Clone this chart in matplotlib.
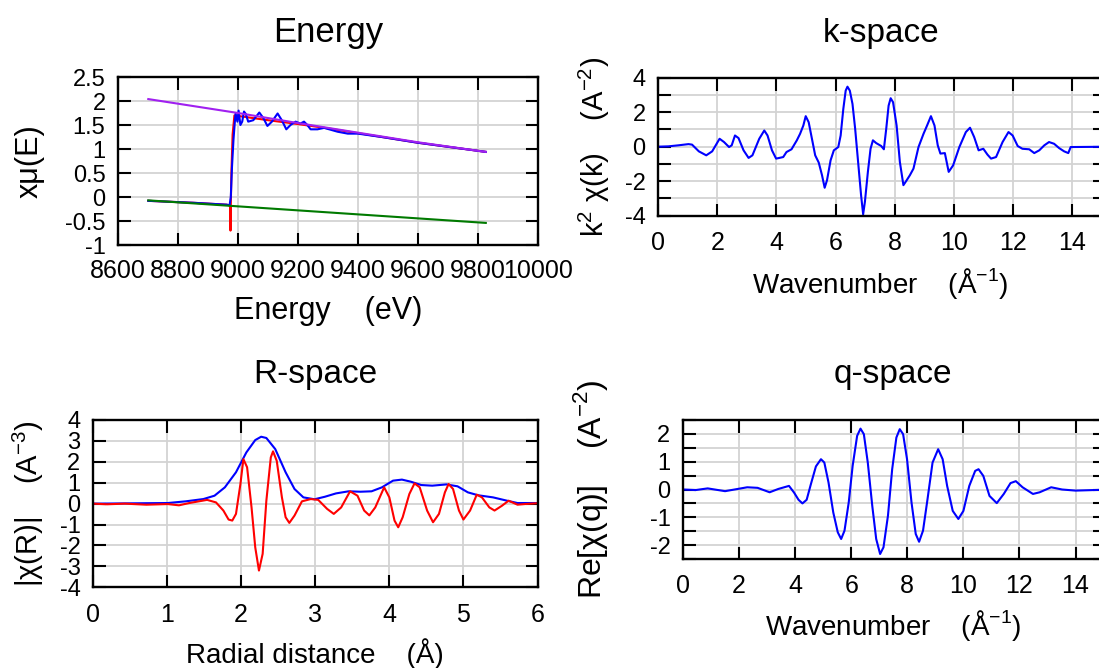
import matplotlib
matplotlib.use("Agg")
import matplotlib.pyplot as plt
from matplotlib.ticker import MultipleLocator, FormatStrFormatter

plt.rcParams['font.family'] = ['Liberation Sans', 'DejaVu Sans']
plt.rcParams['mathtext.fontset'] = 'custom'
plt.rcParams['mathtext.rm'] = 'Liberation Sans'
plt.rcParams['axes.unicode_minus'] = False
plt.rcParams['lines.solid_joinstyle'] = 'round'

# --- Energy panel ---
e_pre = [8701, 9826]
mu_pre = [-0.07, -0.54]
e_post = [8701, 9000, 9200, 9400, 9600, 9826]
mu_post = [2.04, 1.75, 1.54, 1.34, 1.14, 0.94]
e_bkg = [8701, 8850, 8962, 8974, 8975, 8976, 8978, 8982, 8988, 9010, 9100, 9200, 9300, 9400, 9600, 9826]
mu_bkg = [-0.08, -0.12, -0.16, -0.18, -0.70, -0.18, 0.5, 1.3, 1.7, 1.68, 1.6, 1.52, 1.43, 1.33, 1.13, 0.94]
e_data = [8701, 8850, 8962, 8972, 8976, 8980, 8985, 8989, 8992, 8998, 9002, 9008, 9014, 9020,
          9026, 9034, 9051, 9071, 9085, 9098, 9113, 9132, 9146, 9161, 9175, 9192, 9208, 9220,
          9231, 9242, 9265, 9287, 9304, 9332, 9366, 9400, 9479, 9600, 9826]
mu_data = [-0.08, -0.12, -0.16, -0.17, 0.0, 0.63, 1.2, 1.53, 1.74, 1.57, 1.8, 1.5, 1.57, 1.78,
           1.73, 1.57, 1.6, 1.76, 1.64, 1.48, 1.57, 1.74, 1.6, 1.41, 1.5, 1.57, 1.53, 1.57,
           1.5, 1.41, 1.41, 1.44, 1.41, 1.36, 1.32, 1.32, 1.25, 1.13, 0.94]

# --- k-space ---
k = [0.0, 0.35, 0.69, 1.03, 1.15, 1.38, 1.63, 1.83, 2.08, 2.23, 2.40, 2.49, 2.60, 2.72, 2.89,
     3.06, 3.19, 3.42, 3.59, 3.70, 3.85, 3.99, 4.10, 4.23, 4.34, 4.51, 4.69, 4.80, 4.91, 4.99,
     5.09, 5.20, 5.31, 5.43, 5.54, 5.63, 5.71, 5.83, 5.94, 6.09, 6.17, 6.26, 6.34, 6.40, 6.48,
     6.57, 6.66, 6.77, 6.86, 6.93, 6.99, 7.09, 7.18, 7.26, 7.37, 7.54, 7.63, 7.71, 7.79, 7.86,
     7.94, 8.06, 8.17, 8.29, 8.38, 8.51, 8.63, 8.80, 8.97, 9.09, 9.22, 9.34, 9.45, 9.54, 9.69,
     9.82, 9.97, 10.18, 10.40, 10.54, 10.68, 10.83, 10.99, 11.13, 11.25, 11.42, 11.64, 11.84,
     11.98, 12.15, 12.31, 12.54, 12.71, 12.88, 13.05, 13.21, 13.38, 13.55, 13.72, 13.86, 13.94,
     15.3]
chik = [0.0, 0.02, 0.08, 0.15, 0.12, -0.27, -0.50, -0.27, 0.46, 0.27, -0.02, 0.08, 0.65, 0.50,
        -0.21, -0.65, -0.50, 0.46, 0.94, 0.65, -0.21, -0.69, -0.65, -0.60, -0.31, -0.15, 0.37,
        0.75, 1.23, 1.77, 1.42, 0.46, -0.50, -0.92, -1.65, -2.38, -1.94, -0.79, -0.21, -0.02,
        0.65, 2.19, 3.25, 3.48, 3.25, 2.48, 1.04, -1.08, -2.81, -3.92, -3.19, -1.46, -0.12, 0.37,
        0.21, 0.04, -0.15, 1.04, 2.38, 2.81, 2.58, 1.23, -0.88, -2.23, -2.0, -1.65, -1.27, -0.02,
        0.75, 1.23, 1.77, 1.23, 0.08, -0.40, -0.37, -1.46, -1.08, -0.02, 0.85, 1.10, 0.56, -0.21,
        -0.12, -0.46, -0.69, -0.60, 0.27, 0.85, 0.65, 0.04, -0.12, -0.15, -0.37, -0.21, 0.08,
        0.27, 0.17, -0.08, -0.27, -0.37, -0.02, 0.0]

# --- R-space ---
r_mag = [0.0, 1.01, 1.25, 1.49, 1.64, 1.78, 1.93, 2.07, 2.19, 2.27, 2.34, 2.46, 2.60, 2.72,
         2.84, 2.99, 3.13, 3.28, 3.45, 3.61, 3.76, 3.90, 4.05, 4.17, 4.29, 4.43, 4.58, 4.77,
         4.92, 5.06, 5.20, 5.40, 5.59, 5.73, 6.0]
chir_mag = [0.0, 0.03, 0.11, 0.22, 0.38, 0.78, 1.5, 2.45, 3.04, 3.2, 3.14, 2.61, 1.5, 0.7,
            0.3, 0.21, 0.33, 0.49, 0.59, 0.57, 0.59, 0.78, 1.1, 1.15, 1.05, 0.89, 0.86, 0.92,
            0.83, 0.54, 0.4, 0.3, 0.14, 0.03, 0.03]
r_re = [0.0, 0.19, 0.43, 0.72, 1.01, 1.16, 1.30, 1.54, 1.66, 1.76, 1.83, 1.88, 1.93, 1.99,
        2.03, 2.08, 2.14, 2.19, 2.24, 2.29, 2.34, 2.40, 2.43, 2.48, 2.55, 2.60, 2.65, 2.72,
        2.82, 2.94, 3.04, 3.16, 3.25, 3.35, 3.47, 3.57, 3.66, 3.73, 3.81, 3.93, 4.00, 4.07,
        4.12, 4.18, 4.27, 4.34, 4.41, 4.51, 4.59, 4.67, 4.75, 4.80, 4.86, 4.94, 5.00, 5.09,
        5.18, 5.25, 5.35, 5.42, 5.52, 5.61, 5.73, 5.83, 6.0]
chir_re = [0.0, -0.03, 0.0, -0.05, -0.02, -0.08, 0.03, 0.18, 0.06, -0.33, -0.76, -0.81, -0.49,
           0.94, 2.13, 1.74, -0.18, -2.09, -3.2, -2.4, 0.14, 2.21, 2.5, 2.05, 0.3, -0.65, -0.92,
           -0.57, 0.11, 0.22, 0.18, -0.25, -0.49, -0.18, 0.59, 0.38, -0.33, -0.56, -0.18, 0.78,
           0.3, -0.81, -1.13, -0.65, 0.46, 0.97, 0.78, -0.33, -0.89, -0.49, 0.54, 0.94, 0.7,
           -0.33, -0.76, -0.33, 0.43, 0.3, -0.18, -0.33, -0.1, 0.14, -0.05, -0.02, 0.02]

# --- q-space ---
q = [0.0, 0.45, 0.88, 1.5, 2.29, 2.66, 3.09, 3.4, 3.78, 3.96, 4.12, 4.26, 4.41, 4.56, 4.74,
     4.92, 5.04, 5.19, 5.36, 5.52, 5.64, 5.76, 5.91, 6.05, 6.21, 6.33, 6.45, 6.59, 6.75, 6.89,
     7.03, 7.15, 7.31, 7.46, 7.61, 7.73, 7.85, 7.99, 8.15, 8.30, 8.42, 8.56, 8.72, 8.90, 9.10,
     9.26, 9.42, 9.62, 9.82, 10.0, 10.21, 10.42, 10.54, 10.71, 10.93, 11.19, 11.44, 11.68,
     11.87, 12.11, 12.48, 12.72, 13.13, 13.52, 14.0, 15.3]
chiq = [0.0, -0.02, 0.04, -0.06, 0.08, 0.06, -0.1, 0.02, 0.13, -0.11, -0.37, -0.5, -0.37, 0.19,
        0.83, 1.09, 0.97, 0.25, -0.83, -1.54, -1.78, -1.48, -0.47, 0.85, 1.93, 2.19, 1.99, 0.97,
        -0.59, -1.78, -2.32, -2.08, -0.94, 0.73, 1.87, 2.17, 1.99, 1.09, -0.47, -1.6, -1.88,
        -1.48, -0.35, 0.97, 1.45, 1.09, 0.13, -0.77, -1.06, -0.77, 0.13, 0.67, 0.73, 0.49,
        -0.23, -0.49, -0.16, 0.23, 0.3, 0.08, -0.16, -0.1, 0.08, 0.0, -0.04, 0.0]

W, H = 1099, 668
fig = plt.figure(figsize=(W / 100, H / 100), dpi=100)


def box(x0, x1, y0, y1):
    return [x0 / W, 1 - y1 / H, (x1 - x0) / W, (y1 - y0) / H]


def style(ax, xstep, ystep, yminor=None, xpad=10):
    for s in ax.spines.values():
        s.set_linewidth(1.7)
    ax.xaxis.set_major_locator(MultipleLocator(xstep))
    ax.yaxis.set_major_locator(MultipleLocator(ystep))
    if yminor:
        ax.yaxis.set_minor_locator(MultipleLocator(yminor))
    ax.yaxis.set_major_formatter(FormatStrFormatter('%g'))
    ax.xaxis.set_major_formatter(FormatStrFormatter('%g'))
    ax.tick_params(which='both', direction='in', top=True, right=True,
                   length=9, width=1.5)
    ax.tick_params(axis='x', pad=xpad, labelsize=18)
    ax.tick_params(axis='y', pad=9, labelsize=17)
    ax.grid(True, which='both', color='#d3d3d3', lw=1.3)
    ax.set_axisbelow(True)


def txt(x, y, s, size, **kw):
    fig.text(x / W, 1 - y / H, s, fontsize=size, **kw)


# Energy
ax1 = fig.add_axes(box(118, 538, 77, 245))
ax1.plot(e_bkg, mu_bkg, color='#ff0000', lw=1.5)
ax1.plot(e_data, mu_data, color='#0000ff', lw=1.5)
ax1.plot(e_pre, mu_pre, color='#007a00', lw=1.5)
ax1.plot(e_post, mu_post, color='#a020f0', lw=1.5)
ax1.set_xlim(8600, 10000)
ax1.set_ylim(-1, 2.5)
style(ax1, 200, 0.5, xpad=10)

# k-space
ax2 = fig.add_axes(box(658, 1105, 77.7, 215.7))
ax2.plot(k, chik, color='#0000ff', lw=1.5)
ax2.set_xlim(0, 15.1)
ax2.set_ylim(-4, 4)
style(ax2, 2, 2, yminor=1, xpad=11)

# R-space
ax3 = fig.add_axes(box(93, 537.5, 420, 587.3))
ax3.plot(r_mag, chir_mag, color='#0000ff', lw=1.5)
ax3.plot(r_re, chir_re, color='#ff0000', lw=1.5)
ax3.set_xlim(0, 6)
ax3.set_ylim(-4, 4)
style(ax3, 1, 1, xpad=11)

# q-space
ax4 = fig.add_axes(box(683, 1105, 420, 559))
ax4.plot(q, chiq, color='#0000ff', lw=1.5)
ax4.set_xlim(0, 15.05)
ax4.set_ylim(-2.5, 2.5)
style(ax4, 2, 1, yminor=0.5, xpad=11)

# titles
txt(328, 41.7, 'Energy', 25, ha='center', va='baseline')
txt(881, 41.7, 'k-space', 24, ha='center', va='baseline')
txt(315, 383, 'R-space', 24, ha='center', va='baseline')
txt(893, 383, 'q-space', 24, ha='center', va='baseline')

# axis labels
txt(328, 319, 'Energy    (eV)', 22, ha='center', va='baseline')
txt(880, 293, 'Wavenumber    (Å$^{\\mathregular{-1}}$)', 20, ha='center', va='baseline')
txt(315, 663, 'Radial distance    (Å)', 20, ha='center', va='baseline')
txt(893, 635, 'Wavenumber    (Å$^{\\mathregular{-1}}$)', 20, ha='center', va='baseline')

txt(30, 161, 'xμ(E)', 22, ha='center', va='center', rotation=90)
txt(594, 146.7, 'k$^{\\mathregular{2}}$ χ(k)    (A$^{\\mathregular{-2}}$)', 21,
    ha='center', va='center', rotation=90)
txt(28, 503.6, '|χ(R)|    (A$^{\\mathregular{-3}}$)', 21, ha='center', va='center', rotation=90)
txt(591, 489.5, 'Re[χ(q)]    (A$^{\\mathregular{-2}}$)', 23, ha='center', va='center', rotation=90)

fig.savefig('out.png', dpi=100)
